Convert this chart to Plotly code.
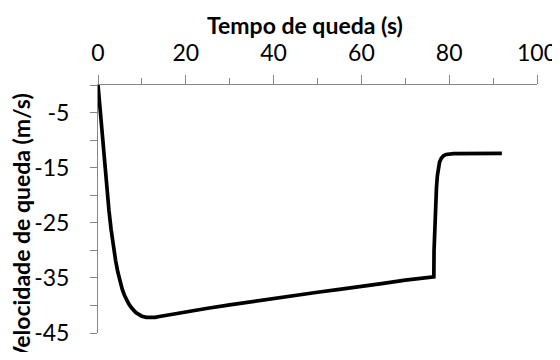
import plotly.graph_objects as go

# Data
tempo = [0, 0.5, 1, 1.5, 2, 2.5, 3, 3.5, 4, 4.5, 5, 5.5, 6, 6.5, 7, 7.5, 8, 8.5, 9, 9.5,
         10, 11, 12, 13, 14, 16, 20, 25, 30, 35, 40, 45, 50, 55, 60, 65, 70, 76.5,
         76.55, 76.7, 76.9, 77.1, 77.3, 77.5, 77.8, 78.2, 78.7, 79.3, 80, 81, 92]
velocidade = [0, -4.9, -9.7, -14.4, -18.9, -22.8, -26.3, -29.3, -31.8, -33.9, -35.6, -37.0,
              -38.1, -39.0, -39.7, -40.3, -40.8, -41.2, -41.5, -41.75,
              -41.95, -42.15, -42.2, -42.15, -42.0, -41.7, -41.2, -40.5, -39.9, -39.3,
              -38.7, -38.1, -37.6, -37.1, -36.6, -36.0, -35.4, -34.8,
              -30.0, -25.5, -21.5, -18.6, -16.5, -15.1, -14.0, -13.3, -12.85, -12.6,
              -12.5, -12.45, -12.4]

x_ticks = [0, 20, 40, 60, 80, 100]
y_ticks = [-45, -35, -25, -15, -5]
y_tick_text = ["-45", "-35", "-25", "-15", "-5"]

FONT = "Lato"
AXIS_COLOR = "#868686"

# the page body adds an 8px margin on the left/top; the figure is sized to fill the rest
fig = go.Figure()
fig.add_trace(go.Scatter(x=tempo, y=velocidade, mode="lines",
                         line=dict(color="black", width=3.7),
                         showlegend=False, hoverinfo="skip"))

fig.update_layout(
    width=552, height=344,
    margin=dict(l=90, r=23, t=77, b=19),
    paper_bgcolor="white", plot_bgcolor="white",
    font=dict(family=FONT, color="#000000", size=23),
    xaxis=dict(side="top", range=[0, 100], tickvals=x_ticks, automargin=False,
               showgrid=False, zeroline=False,
               showline=True, linecolor=AXIS_COLOR, linewidth=1,
               ticks="outside", ticklen=9, tickcolor=AXIS_COLOR, tickwidth=1,
               minor=dict(dtick=10, ticks="outside", ticklen=6, tickcolor=AXIS_COLOR, tickwidth=1),
               tickfont=dict(family=FONT, size=23, color="#000000"),
               ticklabelstandoff=5, ticklabeloverflow="allow"),
    yaxis=dict(range=[-45, 0], tickvals=y_ticks, ticktext=y_tick_text, automargin=False,
               showgrid=False, zeroline=False,
               showline=True, linecolor=AXIS_COLOR, linewidth=1,
               ticks="outside", ticklen=7, tickcolor=AXIS_COLOR, tickwidth=1,
               minor=dict(tickvals=[-40, -30, -20, -10, 0], ticks="outside", ticklen=7,
                          tickcolor=AXIS_COLOR, tickwidth=1),
               tickfont=dict(family=FONT, size=23, color="#000000"),
               ticklabelstandoff=16, ticklabeloverflow="allow"),
    annotations=[
        dict(text="<b>Tempo de queda (s)</b>", xref="paper", yref="paper",
             x=0.4715, y=1.0 + (84.8 - 25) / 247.8, xanchor="center", yanchor="middle",
             showarrow=False, font=dict(family=FONT, size=23, color="#000000")),
        dict(text="<b>Velocidade de queda (m/s)</b>", xref="paper", yref="paper",
             x=(22 - 98.3) / 438.4, y=(332.6 - 228) / 247.8, xanchor="center", yanchor="middle",
             textangle=-90, showarrow=False, font=dict(family=FONT, size=23, color="#000000")),
    ],
)

fig.write_html("out.html")
